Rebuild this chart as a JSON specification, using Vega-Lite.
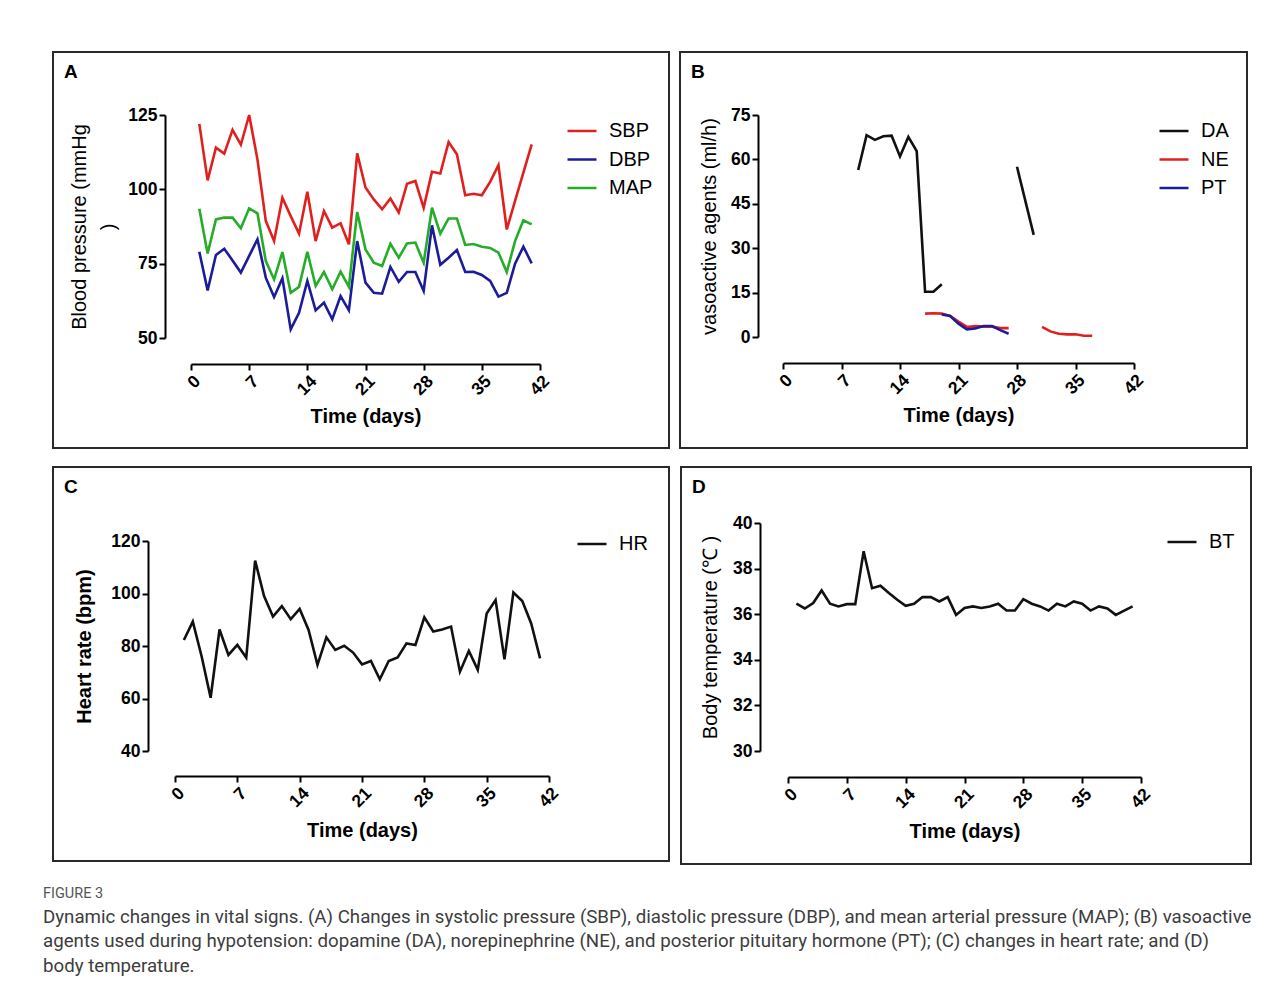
{
  "$schema": "https://vega.github.io/schema/vega-lite/v6.json",
  "padding": {"left": 43, "top": 51, "right": 10, "bottom": 10},
  "background": "white",
  "title": {
    "text": "FIGURE 3",
    "subtitle": ["Dynamic changes in vital signs. (A) Changes in systolic pressure (SBP), diastolic pressure (DBP), and mean arterial pressure (MAP); (B) vasoactive", "agents used during hypotension: dopamine (DA), norepinephrine (NE), and posterior pituitary hormone (PT); (C) changes in heart rate; and (D)", "body temperature."],
    "orient": "bottom",
    "anchor": "start",
    "frame": "bounds",
    "dx": -9,
    "offset": 22,
    "font": "Roboto",
    "fontSize": 14.5,
    "fontWeight": "normal",
    "color": "#555555",
    "baseline": "top",
    "subtitleFont": "Roboto",
    "subtitleFontSize": 18.7,
    "subtitleColor": "#3d3d3d",
    "subtitleLineHeight": 24.5,
    "subtitlePadding": 6
  },
  "datasets": {
    "bp": [
      {"day":1,"series":"SBP","value":122},{"day":2,"series":"SBP","value":103},{"day":3,"series":"SBP","value":114},{"day":4,"series":"SBP","value":112},{"day":5,"series":"SBP","value":120},{"day":6,"series":"SBP","value":115},{"day":7,"series":"SBP","value":125},{"day":8,"series":"SBP","value":110},{"day":9,"series":"SBP","value":89.4},{"day":10,"series":"SBP","value":82.6},{"day":11,"series":"SBP","value":97.2},{"day":12,"series":"SBP","value":91},{"day":13,"series":"SBP","value":85.1},{"day":14,"series":"SBP","value":99.2},{"day":15,"series":"SBP","value":82.6},{"day":16,"series":"SBP","value":92.7},{"day":17,"series":"SBP","value":87.1},{"day":18,"series":"SBP","value":88.6},{"day":19,"series":"SBP","value":81.5},{"day":20,"series":"SBP","value":112.1},{"day":21,"series":"SBP","value":100.6},{"day":22,"series":"SBP","value":96.6},{"day":23,"series":"SBP","value":93.3},{"day":24,"series":"SBP","value":96.9},{"day":25,"series":"SBP","value":92.2},{"day":26,"series":"SBP","value":101.9},{"day":27,"series":"SBP","value":102.8},{"day":28,"series":"SBP","value":93.8},{"day":29,"series":"SBP","value":105.9},{"day":30,"series":"SBP","value":105.3},{"day":31,"series":"SBP","value":115.9},{"day":32,"series":"SBP","value":111.8},{"day":33,"series":"SBP","value":98},{"day":34,"series":"SBP","value":98.5},{"day":35,"series":"SBP","value":98},{"day":36,"series":"SBP","value":102.5},{"day":37,"series":"SBP","value":108.1},{"day":38,"series":"SBP","value":86.5},{"day":39,"series":"SBP","value":96.1},{"day":40,"series":"SBP","value":105.6},{"day":41,"series":"SBP","value":115.1},
      {"day":1,"series":"DBP","value":79},{"day":2,"series":"DBP","value":66},{"day":3,"series":"DBP","value":77.9},{"day":4,"series":"DBP","value":80},{"day":5,"series":"DBP","value":76.1},{"day":6,"series":"DBP","value":72},{"day":7,"series":"DBP","value":77.6},{"day":8,"series":"DBP","value":83.2},{"day":9,"series":"DBP","value":70.3},{"day":10,"series":"DBP","value":63.8},{"day":11,"series":"DBP","value":70.1},{"day":12,"series":"DBP","value":52.9},{"day":13,"series":"DBP","value":58.5},{"day":14,"series":"DBP","value":69.2},{"day":15,"series":"DBP","value":59.3},{"day":16,"series":"DBP","value":61.9},{"day":17,"series":"DBP","value":56.3},{"day":18,"series":"DBP","value":64.1},{"day":19,"series":"DBP","value":59.3},{"day":20,"series":"DBP","value":82.6},{"day":21,"series":"DBP","value":68.6},{"day":22,"series":"DBP","value":65.2},{"day":23,"series":"DBP","value":64.9},{"day":24,"series":"DBP","value":73.9},{"day":25,"series":"DBP","value":68.9},{"day":26,"series":"DBP","value":72.2},{"day":27,"series":"DBP","value":72.2},{"day":28,"series":"DBP","value":65.8},{"day":29,"series":"DBP","value":87.9},{"day":30,"series":"DBP","value":74.6},{"day":31,"series":"DBP","value":77},{"day":32,"series":"DBP","value":79.6},{"day":33,"series":"DBP","value":72.2},{"day":34,"series":"DBP","value":72.3},{"day":35,"series":"DBP","value":71.2},{"day":36,"series":"DBP","value":69.2},{"day":37,"series":"DBP","value":63.9},{"day":38,"series":"DBP","value":65.2},{"day":39,"series":"DBP","value":75},{"day":40,"series":"DBP","value":80.7},{"day":41,"series":"DBP","value":75.1},
      {"day":1,"series":"MAP","value":93.5},{"day":2,"series":"MAP","value":78.4},{"day":3,"series":"MAP","value":89.9},{"day":4,"series":"MAP","value":90.5},{"day":5,"series":"MAP","value":90.5},{"day":6,"series":"MAP","value":86.9},{"day":7,"series":"MAP","value":93.6},{"day":8,"series":"MAP","value":91.9},{"day":9,"series":"MAP","value":75.9},{"day":10,"series":"MAP","value":69.7},{"day":11,"series":"MAP","value":78.9},{"day":12,"series":"MAP","value":65.2},{"day":13,"series":"MAP","value":67.2},{"day":14,"series":"MAP","value":79},{"day":15,"series":"MAP","value":67.5},{"day":16,"series":"MAP","value":72.2},{"day":17,"series":"MAP","value":66.4},{"day":18,"series":"MAP","value":72.3},{"day":19,"series":"MAP","value":67.2},{"day":20,"series":"MAP","value":92.4},{"day":21,"series":"MAP","value":79.8},{"day":22,"series":"MAP","value":75.3},{"day":23,"series":"MAP","value":74.2},{"day":24,"series":"MAP","value":81.7},{"day":25,"series":"MAP","value":77},{"day":26,"series":"MAP","value":81.8},{"day":27,"series":"MAP","value":82.1},{"day":28,"series":"MAP","value":75.3},{"day":29,"series":"MAP","value":93.8},{"day":30,"series":"MAP","value":85.1},{"day":31,"series":"MAP","value":90.2},{"day":32,"series":"MAP","value":90.2},{"day":33,"series":"MAP","value":81.3},{"day":34,"series":"MAP","value":81.6},{"day":35,"series":"MAP","value":80.7},{"day":36,"series":"MAP","value":80.3},{"day":37,"series":"MAP","value":78.7},{"day":38,"series":"MAP","value":72.2},{"day":39,"series":"MAP","value":82.6},{"day":40,"series":"MAP","value":89.6},{"day":41,"series":"MAP","value":88.2}
    ],
    "va": [
      {"day":9,"series":"DA","seg":"DA1","value":56.4},{"day":10,"series":"DA","seg":"DA1","value":68.2},{"day":11,"series":"DA","seg":"DA1","value":66.6},{"day":12,"series":"DA","seg":"DA1","value":67.8},{"day":13,"series":"DA","seg":"DA1","value":68},{"day":14,"series":"DA","seg":"DA1","value":61},{"day":15,"series":"DA","seg":"DA1","value":67.6},{"day":16,"series":"DA","seg":"DA1","value":62.8},{"day":17,"series":"DA","seg":"DA1","value":15.3},{"day":18,"series":"DA","seg":"DA1","value":15.3},{"day":19,"series":"DA","seg":"DA1","value":17.8},
      {"day":28,"series":"DA","seg":"DA2","value":57.5},{"day":30,"series":"DA","seg":"DA2","value":34.5},
      {"day":17,"series":"NE","seg":"NE1","value":7.9},{"day":18,"series":"NE","seg":"NE1","value":8},{"day":19,"series":"NE","seg":"NE1","value":7.9},{"day":20,"series":"NE","seg":"NE1","value":7.1},{"day":21,"series":"NE","seg":"NE1","value":5.2},{"day":22,"series":"NE","seg":"NE1","value":3.4},{"day":23,"series":"NE","seg":"NE1","value":3.7},{"day":24,"series":"NE","seg":"NE1","value":3.5},{"day":25,"series":"NE","seg":"NE1","value":3.5},{"day":26,"series":"NE","seg":"NE1","value":3},{"day":27,"series":"NE","seg":"NE1","value":3},
      {"day":31,"series":"NE","seg":"NE2","value":3.4},{"day":32,"series":"NE","seg":"NE2","value":1.9},{"day":33,"series":"NE","seg":"NE2","value":1.1},{"day":34,"series":"NE","seg":"NE2","value":0.9},{"day":35,"series":"NE","seg":"NE2","value":0.9},{"day":36,"series":"NE","seg":"NE2","value":0.4},{"day":37,"series":"NE","seg":"NE2","value":0.4},
      {"day":19,"series":"PT","seg":"PT1","value":7.6},{"day":20,"series":"PT","seg":"PT1","value":7.1},{"day":21,"series":"PT","seg":"PT1","value":4.5},{"day":22,"series":"PT","seg":"PT1","value":2.6},{"day":23,"series":"PT","seg":"PT1","value":2.9},{"day":24,"series":"PT","seg":"PT1","value":3.7},{"day":25,"series":"PT","seg":"PT1","value":3.7},{"day":26,"series":"PT","seg":"PT1","value":2.3},{"day":27,"series":"PT","seg":"PT1","value":1.1}
    ],
    "hr": [
      {"day":1,"series":"HR","value":82.3},{"day":2,"series":"HR","value":89.3},{"day":3,"series":"HR","value":75.9},{"day":4,"series":"HR","value":60.3},{"day":5,"series":"HR","value":86.3},{"day":6,"series":"HR","value":76.6},{"day":7,"series":"HR","value":80.4},{"day":8,"series":"HR","value":75.6},{"day":9,"series":"HR","value":112.5},{"day":10,"series":"HR","value":99},{"day":11,"series":"HR","value":91.2},{"day":12,"series":"HR","value":95.2},{"day":13,"series":"HR","value":90.2},{"day":14,"series":"HR","value":94.1},{"day":15,"series":"HR","value":86.1},{"day":16,"series":"HR","value":72.8},{"day":17,"series":"HR","value":83.3},{"day":18,"series":"HR","value":78.5},{"day":19,"series":"HR","value":80.1},{"day":20,"series":"HR","value":77.5},{"day":21,"series":"HR","value":73},{"day":22,"series":"HR","value":74.3},{"day":23,"series":"HR","value":67.3},{"day":24,"series":"HR","value":74.3},{"day":25,"series":"HR","value":75.6},{"day":26,"series":"HR","value":81},{"day":27,"series":"HR","value":80.4},{"day":28,"series":"HR","value":90.9},{"day":29,"series":"HR","value":85.5},{"day":30,"series":"HR","value":86.3},{"day":31,"series":"HR","value":87.4},{"day":32,"series":"HR","value":70.2},{"day":33,"series":"HR","value":78.1},{"day":34,"series":"HR","value":70.9},{"day":35,"series":"HR","value":92.4},{"day":36,"series":"HR","value":97.5},{"day":37,"series":"HR","value":74.9},{"day":38,"series":"HR","value":100.4},{"day":39,"series":"HR","value":97.1},{"day":40,"series":"HR","value":88.6},{"day":41,"series":"HR","value":75.3}
    ],
    "bt": [
      {"day":1,"series":"BT","value":36.46},{"day":2,"series":"BT","value":36.25},{"day":3,"series":"BT","value":36.49},{"day":4,"series":"BT","value":37.04},{"day":5,"series":"BT","value":36.46},{"day":6,"series":"BT","value":36.34},{"day":7,"series":"BT","value":36.44},{"day":8,"series":"BT","value":36.44},{"day":9,"series":"BT","value":38.76},{"day":10,"series":"BT","value":37.14},{"day":11,"series":"BT","value":37.25},{"day":12,"series":"BT","value":36.93},{"day":13,"series":"BT","value":36.63},{"day":14,"series":"BT","value":36.37},{"day":15,"series":"BT","value":36.46},{"day":16,"series":"BT","value":36.75},{"day":17,"series":"BT","value":36.75},{"day":18,"series":"BT","value":36.56},{"day":19,"series":"BT","value":36.75},{"day":20,"series":"BT","value":35.97},{"day":21,"series":"BT","value":36.27},{"day":22,"series":"BT","value":36.34},{"day":23,"series":"BT","value":36.27},{"day":24,"series":"BT","value":36.34},{"day":25,"series":"BT","value":36.46},{"day":26,"series":"BT","value":36.16},{"day":27,"series":"BT","value":36.16},{"day":28,"series":"BT","value":36.66},{"day":29,"series":"BT","value":36.46},{"day":30,"series":"BT","value":36.34},{"day":31,"series":"BT","value":36.16},{"day":32,"series":"BT","value":36.46},{"day":33,"series":"BT","value":36.34},{"day":34,"series":"BT","value":36.56},{"day":35,"series":"BT","value":36.46},{"day":36,"series":"BT","value":36.16},{"day":37,"series":"BT","value":36.34},{"day":38,"series":"BT","value":36.25},{"day":39,"series":"BT","value":35.97},{"day":40,"series":"BT","value":36.16},{"day":41,"series":"BT","value":36.34}
    ]
  },
  "vconcat": [
    {
      "hconcat": [
        {
          "width": 616, "height": 396,
          "title": {"text": "A", "anchor": "start", "offset": -30, "dx": 11},
          "data": {"name": "bp"},
          "mark": {"type": "line", "strokeWidth": 2.6},
          "encoding": {
            "x": {"field": "day", "type": "quantitative", "scale": {"domain": [0, 42], "range": [138, 487], "nice": false, "zero": false}, "axis": {"values": [0, 7, 14, 21, 28, 35, 42], "offset": -84, "title": "Time (days)", "titlePadding": 8}},
            "y": {"field": "value", "type": "quantitative", "scale": {"domain": [50, 125], "range": [286, 63], "nice": false, "zero": false}, "axis": {"values": [50, 75, 100, 125], "offset": -112, "title": ["Blood pressure (mmHg", ")"], "titleFontWeight": "normal", "titleLineHeight": 29, "titlePadding": 9}},
            "color": {"field": "series", "type": "nominal", "scale": {"domain": ["SBP", "DBP", "MAP"], "range": ["#e0201e", "#1c1c9a", "#25ad28"]}, "legend": {"legendX": 513, "legendY": 63}}
          }
        },
        {
          "width": 567, "height": 396,
          "title": {"text": "B", "anchor": "start", "offset": -30, "dx": 11},
          "data": {"name": "va"},
          "mark": {"type": "line", "strokeWidth": 2.6},
          "encoding": {
            "x": {"field": "day", "type": "quantitative", "scale": {"domain": [0, 42], "range": [103, 454], "nice": false, "zero": false}, "axis": {"values": [0, 7, 14, 21, 28, 35, 42], "offset": -85, "title": "Time (days)", "titlePadding": 8}},
            "y": {"field": "value", "type": "quantitative", "scale": {"domain": [0, 75], "range": [285, 63], "nice": false, "zero": false}, "axis": {"values": [0, 15, 30, 45, 60, 75], "offset": -78, "title": "vasoactive agents (ml/h)", "titleFontWeight": "normal", "titlePadding": 11}},
            "color": {"field": "series", "type": "nominal", "scale": {"domain": ["DA", "NE", "PT"], "range": ["#111111", "#e0201e", "#1c1c9a"]}, "legend": {"legendX": 478, "legendY": 63}},
            "detail": {"field": "seg", "type": "nominal"}
          }
        }
      ],
      "spacing": 9,
      "resolve": {"scale": {"color": "independent"}, "legend": {"color": "independent"}}
    },
    {
      "hconcat": [
        {
          "width": 616, "height": 394,
          "title": {"text": "C", "anchor": "start", "offset": -30, "dx": 11},
          "data": {"name": "hr"},
          "mark": {"type": "line", "strokeWidth": 2.6},
          "encoding": {
            "x": {"field": "day", "type": "quantitative", "scale": {"domain": [0, 42], "range": [122, 496], "nice": false, "zero": false}, "axis": {"values": [0, 7, 14, 21, 28, 35, 42], "offset": -85, "title": "Time (days)"}},
            "y": {"field": "value", "type": "quantitative", "scale": {"domain": [40, 120], "range": [284, 74], "nice": false, "zero": false}, "axis": {"values": [40, 60, 80, 100, 120], "offset": -95, "title": "Heart rate (bpm)", "titleFontWeight": "bold", "titlePadding": 16}},
            "color": {"field": "series", "type": "nominal", "scale": {"domain": ["HR"], "range": ["#111111"]}, "legend": {"legendX": 523, "legendY": 61}}
          }
        },
        {
          "width": 570, "height": 397,
          "title": {"text": "D", "anchor": "start", "offset": -30, "dx": 11},
          "data": {"name": "bt"},
          "mark": {"type": "line", "strokeWidth": 2.6},
          "encoding": {
            "x": {"field": "day", "type": "quantitative", "scale": {"domain": [0, 42], "range": [107, 460], "nice": false, "zero": false}, "axis": {"values": [0, 7, 14, 21, 28, 35, 42], "offset": -87, "title": "Time (days)"}},
            "y": {"field": "value", "type": "quantitative", "scale": {"domain": [30, 40], "range": [284, 56], "nice": false, "zero": false}, "axis": {"values": [30, 32, 34, 36, 38, 40], "offset": -79, "title": "Body temperature (℃ )", "titleFontWeight": "normal", "titlePadding": 12}},
            "color": {"field": "series", "type": "nominal", "scale": {"domain": ["BT"], "range": ["#111111"]}, "legend": {"legendX": 485, "legendY": 59}}
          }
        }
      ],
      "spacing": 10,
      "resolve": {"scale": {"color": "independent"}, "legend": {"color": "independent"}}
    }
  ],
  "spacing": 17,
  "resolve": {"scale": {"color": "independent"}, "legend": {"color": "independent"}},
  "config": {
    "font": "Liberation Sans",
    "view": {"stroke": "#2a2a2a", "strokeWidth": 2},
    "title": {"font": "Liberation Sans", "fontSize": 19, "fontWeight": "bold", "color": "#000000", "baseline": "alphabetic"},
    "axis": {
      "grid": false,
      "domainColor": "#000000", "domainWidth": 2,
      "tickColor": "#000000", "tickWidth": 2, "tickSize": 6,
      "labelFont": "Liberation Sans", "labelFontSize": 17.5, "labelFontWeight": "bold", "labelColor": "#000000", "labelPadding": 2,
      "labelOverlap": false, "labelFlush": false,
      "titleFont": "Liberation Sans", "titleFontSize": 20, "titleFontWeight": "bold", "titleColor": "#000000"
    },
    "axisX": {"labelAngle": -45, "titlePadding": 10},
    "legend": {
      "orient": "none", "title": null, "padding": 0,
      "symbolType": "stroke", "symbolSize": 841, "symbolStrokeWidth": 2.5,
      "labelFont": "Liberation Sans", "labelFontSize": 20, "labelColor": "#000000", "labelOffset": 11, "rowPadding": 2.5
    }
  }
}
